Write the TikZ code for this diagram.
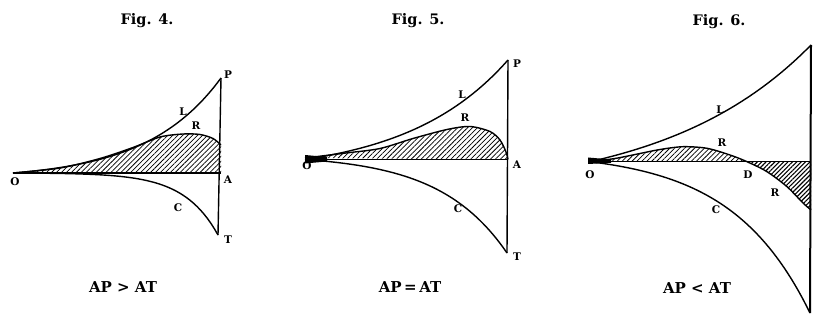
\documentclass[tikz,border=0pt]{standalone}
\usepackage{fontspec}
\setmainfont{DejaVu Serif}
\usetikzlibrary{patterns.meta}

\begin{document}
\begin{tikzpicture}[
    x=1pt, y=-1pt,
    curve/.style={line width=1.4pt},
    axisline/.style={line width=1.4pt},
    hatch/.style={pattern={Lines[angle=45,distance=3.5pt,line width=0.75pt]}},
    densehatch/.style={pattern={Lines[angle=45,distance=3.1pt,line width=1.1pt]}},
    lbl/.style={font=\fontsize{10.5}{12}\selectfont\bfseries, inner sep=0pt},
    figtitle/.style={font=\fontsize{14.5}{17}\selectfont\bfseries},
    figcaption/.style={font=\fontsize{15}{18}\selectfont\bfseries}
]
\useasboundingbox (0,0) rectangle (817,323);

% Fig. 4
\coordinate (O4) at (13,173);
\coordinate (A4) at (221,173);
\coordinate (P4) at (221,78);
\coordinate (T4) at (218,235);
\fill[hatch] plot[smooth] coordinates {(13,173) (60,168) (100,158.5) (133,147.5) (160,137) (183,134) (200,134.5) (213,138.5) (221,145)} -- (A4) -- cycle;
\draw[curve] plot[smooth] coordinates {(13,173) (60,168) (100,158.5) (133,147.5) (160,137) (183,134) (200,134.5) (213,138.5) (221,145)};
\draw[curve] plot[domain=13:221,samples=60] (\x,{173-95/(exp(2.8)-1)*(exp(2.8*(\x-13)/208)-1)});
\draw[curve] plot[domain=13:218,samples=60] (\x,{173+62/(exp(6)-1)*(exp(6*(\x-13)/205)-1)});
\draw[axisline] (O4) -- (A4);
\draw[curve] (P4) -- (T4);
\node[figtitle] (fig4) at (147,21) {Fig. 4.};
\node[lbl] (o4) at (15,182) {O};
\node[lbl] (l4) at (183,112) {L};
\node[lbl] (r4) at (196,126) {R};
\node[lbl] (p4) at (228,75) {P};
\node[lbl] (a4) at (228,180) {A};
\node[lbl] (c4) at (178,208) {C};
\node[lbl] (t4) at (228,240) {T};
\node[figcaption] (cap4) at (123,287) {AP > AT};

% Fig. 5
\coordinate (O5) at (305,159.5);
\coordinate (A5) at (508,159.5);
\coordinate (P5) at (508,60);
\coordinate (T5) at (507,253);
\fill[hatch] plot[smooth] coordinates {(305,158) (346,153) (380,148.5) (413,138.5) (447,129.5) (470,126.5) (490,131.5) (500,140) (506,152) (508,159.5)} -- cycle;
\draw[curve] plot[smooth] coordinates {(305,158) (346,153) (380,148.5) (413,138.5) (447,129.5) (470,126.5) (490,131.5) (500,140) (506,152) (508,159.5)};
\fill (305,155) -- (327,157) -- (327,161.5) -- (305,163.5) -- cycle;
\draw[curve] plot[domain=305:508,samples=60] (\x,{159.5-99.5/(exp(2)-1)*(exp(2*(\x-305)/203)-1)});
\draw[curve] plot[domain=305:507,samples=60] (\x,{159.5+93.5/(exp(3)-1)*(exp(3*(\x-305)/202)-1)});
\draw[axisline] (O5) -- (A5);
\draw[curve] (P5) -- (T5);
\node[figtitle] (fig5) at (418,21) {Fig. 5.};
\node[lbl] (o5) at (307,166) {O};
\node[lbl] (l5) at (462,95) {L};
\node[lbl] (r5) at (465,118) {R};
\node[lbl] (p5) at (517,64) {P};
\node[lbl] (a5) at (517,165) {A};
\node[lbl] (c5) at (458,209) {C};
\node[lbl] (t5) at (517,257) {T};
\node[figcaption] (cap5) at (410,287) {AP\,=\,AT};

% Fig. 6
\coordinate (O6) at (590,161.7);
\coordinate (D6) at (747,161.7);
\coordinate (A6) at (811,161.7);
\coordinate (P6) at (811,45);
\coordinate (T6) at (810,313);
\fill[hatch] plot[smooth] coordinates {(590,161.7) (615,158.5) (640,153.5) (660,149.5) (683,146.7) (707,148.3) (730,155) (747,161.7)} -- cycle;
\fill[densehatch] plot[smooth] coordinates {(747,161.7) (767,171.7) (787,186.7) (803,203) (811,210)} -- (A6) -- cycle;
\draw[curve] plot[smooth] coordinates {(590,161.7) (615,158.5) (640,153.5) (660,149.5) (683,146.7) (707,148.3) (730,155) (747,161.7) (767,171.7) (787,186.7) (803,203) (811,210)};
\fill (588,157.5) -- (611,159.5) -- (611,162.8) -- (588,164) -- cycle;
\draw[curve] plot[domain=590:811,samples=60] (\x,{161.7-116.7/(exp(1.5)-1)*(exp(1.5*(\x-590)/221)-1)});
\draw[curve] plot[domain=590:810,samples=60] (\x,{161.7+151.3/(exp(2.8)-1)*(exp(2.8*(\x-590)/220)-1)});
\draw[axisline] (O6) -- (A6);
\draw[line width=2pt] (P6) -- (T6);
\node[figtitle] (fig6) at (719,22) {Fig. 6.};
\node[lbl] (o6) at (590,175) {O};
\node[lbl] (l6) at (720,110) {L};
\node[lbl] (r6) at (722,143) {R};
\node[lbl] (d6) at (748,175) {D};
\node[lbl] (rr6) at (775,193) {R};
\node[lbl] (c6) at (716,210) {C};
\node[figcaption] (cap6) at (697,288) {AP < AT};
\end{tikzpicture}
\end{document}
